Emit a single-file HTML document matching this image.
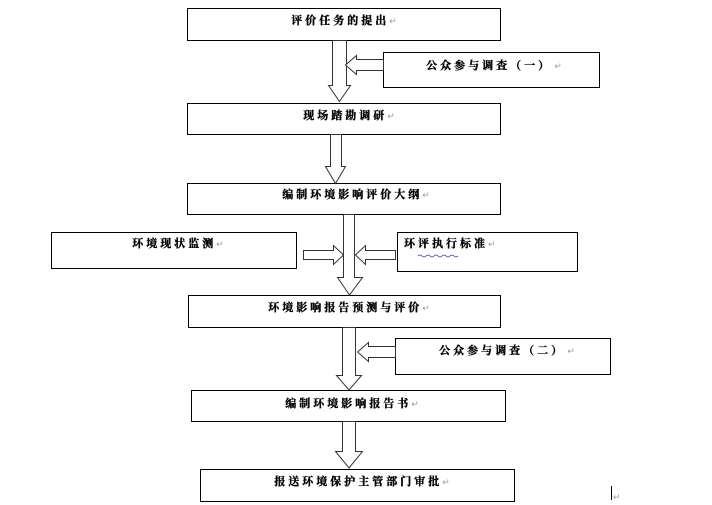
<!DOCTYPE html>
<html><head><meta charset="utf-8"><style>
html,body{margin:0;padding:0;background:#fff;width:712px;height:505px;overflow:hidden}
svg text{font-family:"Liberation Serif","Noto Serif CJK SC","Noto Sans CJK SC",serif;font-weight:bold;font-size:11px;letter-spacing:3px;stroke:#000;stroke-width:0.35}
svg text tspan.r{fill:#999;stroke:none;font-size:9px;font-weight:normal;letter-spacing:0}
</style></head><body>
<svg width="712" height="505" viewBox="0 0 712 505" xmlns="http://www.w3.org/2000/svg">
<g fill="#fff" stroke="#000" stroke-width="1">
<rect x="187.5" y="8.5" width="313" height="32"/>
<rect x="383.5" y="52.5" width="216" height="35"/>
<rect x="187.5" y="103.5" width="313" height="31"/>
<rect x="187.5" y="183.5" width="313" height="31"/>
<rect x="51.5" y="232.5" width="245" height="36"/>
<rect x="397.5" y="232.5" width="180" height="39"/>
<rect x="188.5" y="295.5" width="312" height="32"/>
<rect x="395.5" y="338.5" width="215" height="36"/>
<rect x="191.5" y="390.5" width="314" height="31"/>
<rect x="200.5" y="469.5" width="314" height="32"/>
</g>
<g fill="#fff" stroke="#333" stroke-width="1">
<path d="M332.5 40.5 H346.5 V85.5 H350.5 L339.5 101.5 L328.5 85.5 H332.5 Z"/>
<path d="M383.5 59.5 V70.5 H356.5 V74.5 L345.5 65 L356.5 55.5 V59.5 Z"/>
<path d="M330.5 134.5 H341.5 V166.5 H345.5 L335.5 183.5 L325.5 166.5 H330.5 Z"/>
<path d="M343.5 214.5 H354.5 V277.5 H362.5 L349.5 295 L337.5 277.5 H343.5 Z"/>
<path d="M303.5 250.5 H333.5 V245.5 L343.5 255 L333.5 264.5 V259.5 H303.5 Z"/>
<path d="M395.5 250.5 H365.5 V245.5 L355.5 255 L365.5 264.5 V259.5 H395.5 Z"/>
<path d="M342.5 327.5 H355.5 V375.5 H361.5 L349 390 L336.5 375.5 H342.5 Z"/>
<path d="M395.5 346.5 V357.5 H368.5 V361.5 L357.5 352 L368.5 342.5 V346.5 Z"/>
<path d="M342.5 421.5 H355.5 V451.5 H362.5 L349 468 L335.5 451.5 H342.5 Z"/>
</g>
<g fill="#000" text-anchor="middle">
<text x="344" y="24">评价任务的提出<tspan class="r">↵</tspan></text>
<text x="494" y="69">公众参与调查（一）<tspan class="r"> ↵</tspan></text>
<text x="349" y="119">现场踏勘调研<tspan class="r">↵</tspan></text>
<text x="356" y="198">编制环境影响评价大纲<tspan class="r">↵</tspan></text>
<text x="178" y="247">环境现状监测<tspan class="r">↵</tspan></text>
<text x="349" y="311">环境影响报告预测与评价<tspan class="r">↵</tspan></text>
<text x="507" y="354">公众参与调查（二）<tspan class="r"> ↵</tspan></text>
<text x="352" y="407">编制环境影响报告书<tspan class="r">↵</tspan></text>
<text x="362" y="485">报送环境保护主管部门审批<tspan class="r">↵</tspan></text>
</g>
<text x="404" y="247" fill="#000">环评执行标准<tspan class="r">↵</tspan></text>
<path d="M418 256 q2 -2 4 0 t4 0 t4 0 t4 0 t4 0 t4 0 t4 0 t4 0 t4 0 t4 0" stroke="#33c" fill="none" stroke-width="0.8"/>
<line x1="611.5" y1="486" x2="611.5" y2="500" stroke="#000"/>
<text x="613" y="500" fill="#999" style="font-size:9px;stroke:none;font-weight:normal">↵</text>
</svg>
</body></html>
